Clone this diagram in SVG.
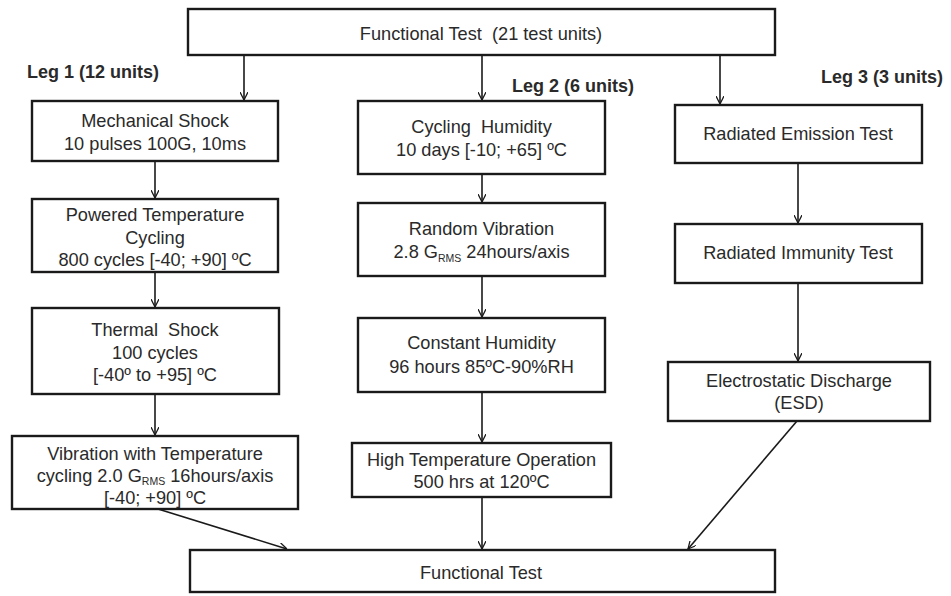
<svg xmlns="http://www.w3.org/2000/svg" width="951" height="596" viewBox="0 0 951 596">
  <style>
    .box { fill: #ffffff; stroke: #1a1a1a; stroke-width: 2.4; }
    .t { font-family: "Liberation Sans", Arial, sans-serif; font-size: 18.2px; fill: #2a2a2a; text-anchor: middle; }
    .leg { font-family: "Liberation Sans", Arial, sans-serif; font-size: 18px; font-weight: bold; fill: #2a2a2a; }
    .sub { font-size: 10.5px; }
    .c { fill: none; stroke: #1a1a1a; stroke-width: 1.6; marker-end: url(#arr); }
  </style>
  <defs>
    <marker id="arr" viewBox="0 0 10 10" refX="10" refY="5" markerWidth="8" markerHeight="8" markerUnits="userSpaceOnUse" orient="auto">
      <path d="M0,0 L10,5 L0,10" fill="none" stroke="#1a1a1a" stroke-width="1.6"/>
    </marker>
  </defs>
  <rect width="951" height="596" fill="#ffffff"/>

  <!-- leg labels -->
  <text class="leg" x="27" y="78">Leg 1 (12 units)</text>
  <text class="leg" x="512" y="92">Leg 2 (6 units)</text>
  <text class="leg" x="821" y="83">Leg 3 (3 units)</text>

  <!-- connectors -->
  <g id="connectors">
    <line class="c" x1="244" y1="55" x2="244" y2="100"/>
    <line class="c" x1="482" y1="55" x2="482" y2="100"/>
    <line class="c" x1="720" y1="55" x2="720" y2="104"/>
    <line class="c" x1="155" y1="161" x2="155" y2="198"/>
    <line class="c" x1="155" y1="272" x2="155" y2="307"/>
    <line class="c" x1="155" y1="394" x2="155" y2="435"/>
    <line class="c" x1="482" y1="174" x2="482" y2="202"/>
    <line class="c" x1="482" y1="276" x2="482" y2="317"/>
    <line class="c" x1="482" y1="392" x2="482" y2="442"/>
    <line class="c" x1="482" y1="497" x2="482" y2="549"/>
    <line class="c" x1="798" y1="163" x2="798" y2="223"/>
    <line class="c" x1="798" y1="283" x2="798" y2="361"/>
    <line class="c" x1="158" y1="509" x2="287" y2="549"/>
    <line class="c" x1="797" y1="421" x2="688" y2="549"/>
  </g>

  <g id="functional-test-top">
    <rect class="box" x="188" y="9" width="587" height="46"/>
    <text class="t" x="481" y="40" xml:space="preserve">Functional Test  (21 test units)</text>
  </g>

  <g id="mechanical-shock">
    <rect class="box" x="32" y="101" width="246" height="60"/>
    <text class="t" x="155" y="127">Mechanical Shock</text>
    <text class="t" x="155" y="150">10 pulses 100G, 10ms</text>
  </g>

  <g id="powered-temperature-cycling">
    <rect class="box" x="32" y="199" width="246" height="73"/>
    <text class="t" x="155" y="221">Powered Temperature</text>
    <text class="t" x="155" y="244">Cycling</text>
    <text class="t" x="155" y="266">800 cycles [-40; +90] ºC</text>
  </g>

  <g id="thermal-shock">
    <rect class="box" x="32" y="308" width="247" height="86"/>
    <text class="t" x="155" y="336" xml:space="preserve">Thermal  Shock</text>
    <text class="t" x="155" y="359">100 cycles</text>
    <text class="t" x="155" y="381">[-40º to +95] ºC</text>
  </g>

  <g id="vibration-temperature">
    <rect class="box" x="12" y="436" width="286" height="73"/>
    <text class="t" x="155" y="460">Vibration with Temperature</text>
    <text class="t" x="155" y="482">cycling 2.0 G<tspan class="sub" dy="3">RMS</tspan><tspan dy="-3"> 16hours/axis</tspan></text>
    <text class="t" x="155" y="504">[-40; +90] ºC</text>
  </g>

  <g id="cycling-humidity">
    <rect class="box" x="358" y="101" width="247" height="73"/>
    <text class="t" x="481.5" y="133" xml:space="preserve">Cycling  Humidity</text>
    <text class="t" x="481.5" y="156">10 days [-10; +65] ºC</text>
  </g>

  <g id="random-vibration">
    <rect class="box" x="358" y="203" width="247" height="73"/>
    <text class="t" x="481.5" y="235">Random Vibration</text>
    <text class="t" x="481.5" y="258">2.8 G<tspan class="sub" dy="4">RMS</tspan><tspan dy="-4"> 24hours/axis</tspan></text>
  </g>

  <g id="constant-humidity">
    <rect class="box" x="358" y="318" width="247" height="74"/>
    <text class="t" x="481.5" y="349">Constant Humidity</text>
    <text class="t" x="481.5" y="373">96 hours 85ºC-90%RH</text>
  </g>

  <g id="high-temperature-operation">
    <rect class="box" x="352" y="443" width="259" height="54"/>
    <text class="t" x="481.5" y="466">High Temperature Operation</text>
    <text class="t" x="481.5" y="488">500 hrs at 120ºC</text>
  </g>

  <g id="radiated-emission">
    <rect class="box" x="675" y="105" width="247" height="58"/>
    <text class="t" x="798" y="140">Radiated Emission Test</text>
  </g>

  <g id="radiated-immunity">
    <rect class="box" x="675" y="224" width="247" height="59"/>
    <text class="t" x="798" y="259">Radiated Immunity Test</text>
  </g>

  <g id="esd">
    <rect class="box" x="668" y="362" width="262" height="59"/>
    <text class="t" x="799" y="387">Electrostatic Discharge</text>
    <text class="t" x="799" y="409">(ESD)</text>
  </g>

  <g id="functional-test-bottom">
    <rect class="box" x="190" y="550" width="585" height="42"/>
    <text class="t" x="481" y="579">Functional Test</text>
  </g>
</svg>
